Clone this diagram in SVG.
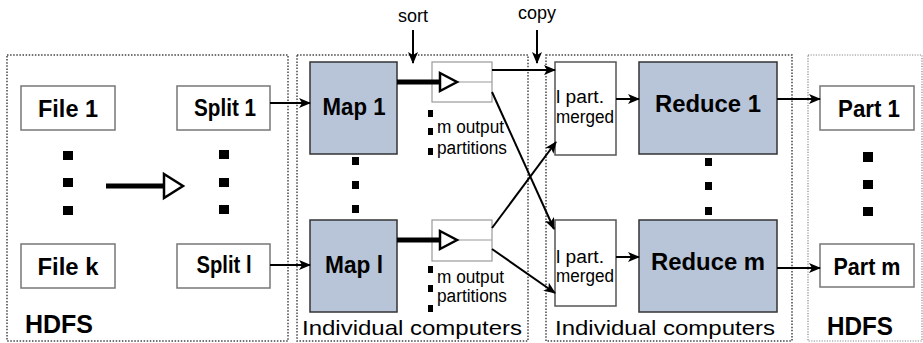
<svg xmlns="http://www.w3.org/2000/svg" width="923" height="343" viewBox="0 0 923 343">
  <defs>
    <marker id="arrow" viewBox="0 0 12 10" refX="11" refY="5" markerWidth="12" markerHeight="10" markerUnits="userSpaceOnUse" orient="auto">
      <path d="M0,0 L12,5 L0,10 L3,5 z" fill="#000"/>
    </marker>
    <style>
      .zone { fill: none; stroke: #444; stroke-width: 1.5; stroke-dasharray: 1.5 1.6; }
      .zone-light { fill: none; stroke: #888; stroke-width: 1.2; stroke-dasharray: 1.2 1.4; }
      .box { fill: #fff; stroke: #777; stroke-width: 1.5; }
      .proc { fill: #b8c5d8; stroke: #333; stroke-width: 1.5; }
      .buf { fill: #fff; stroke: #999; stroke-width: 1.2; }
      .merge { fill: #fff; stroke: #555; stroke-width: 1.5; }
      .edge { fill: none; stroke: #000; stroke-width: 2; marker-end: url(#arrow); }
      .thick { fill: none; stroke: #000; stroke-width: 5; }
      .hollow { fill: #fff; stroke: #000; stroke-width: 2.5; stroke-linejoin: miter; }
      .dot { fill: #000; }
      .lbl { font-family: "Liberation Sans", Arial, sans-serif; font-weight: bold; font-size: 24px; fill: #000; text-anchor: middle; }
      .small { font-family: "Liberation Sans", Arial, sans-serif; font-size: 18px; fill: #000; }
      .zone-lbl { font-family: "Liberation Sans", Arial, sans-serif; font-size: 21px; fill: #000; }
      .zone-bold { font-family: "Liberation Sans", Arial, sans-serif; font-weight: bold; font-size: 25px; fill: #000; }
    </style>
  </defs>

  <!-- zones -->
  <g id="zone-hdfs-in">
    <rect class="zone" x="7" y="55" width="281" height="286"/>
    <text class="zone-bold" x="25" y="333" textLength="68" lengthAdjust="spacingAndGlyphs">HDFS</text>
  </g>
  <g id="zone-map">
    <rect class="zone" x="297" y="55" width="231" height="286"/>
    <text class="zone-lbl" x="302" y="335" textLength="220" lengthAdjust="spacingAndGlyphs">Individual computers</text>
  </g>
  <g id="zone-reduce">
    <rect class="zone" x="546" y="55" width="246" height="286"/>
    <text class="zone-lbl" x="555" y="335" textLength="220" lengthAdjust="spacingAndGlyphs">Individual computers</text>
  </g>
  <g id="zone-hdfs-out">
    <rect class="zone-light" x="808" y="55" width="114" height="286"/>
    <text class="zone-bold" x="827" y="335" textLength="66" lengthAdjust="spacingAndGlyphs">HDFS</text>
  </g>

  <!-- input files and splits -->
  <g id="file-1">
    <rect class="box" x="21" y="86" width="94" height="44"/>
    <text class="lbl" x="68" y="117" textLength="60" lengthAdjust="spacingAndGlyphs">File 1</text>
  </g>
  <g id="file-k">
    <rect class="box" x="21" y="244" width="94" height="44"/>
    <text class="lbl" x="68" y="275" textLength="61" lengthAdjust="spacingAndGlyphs">File k</text>
  </g>
  <g id="split-1">
    <rect class="box" x="177" y="86" width="93" height="44"/>
    <text class="lbl" x="225" y="116" textLength="62" lengthAdjust="spacingAndGlyphs">Split 1</text>
  </g>
  <g id="split-l">
    <rect class="box" x="177" y="244" width="93" height="44"/>
    <text class="lbl" x="224" y="273" textLength="55" lengthAdjust="spacingAndGlyphs">Split l</text>
  </g>

  <!-- map tasks -->
  <g id="map-1">
    <rect class="proc" x="310" y="62" width="87" height="92"/>
    <text class="lbl" x="354" y="115" textLength="63" lengthAdjust="spacingAndGlyphs">Map 1</text>
  </g>
  <g id="map-l">
    <rect class="proc" x="310" y="220" width="87" height="92"/>
    <text class="lbl" x="354" y="273" textLength="58" lengthAdjust="spacingAndGlyphs">Map l</text>
  </g>

  <!-- sorted map output buffers -->
  <g id="buffer-1">
    <rect class="buf" x="432" y="62" width="60" height="40"/>
    <line class="buf" x1="432" y1="82" x2="492" y2="82"/>
    <rect class="dot" x="428" y="110" width="5" height="7"/>
    <rect class="dot" x="428" y="128" width="5" height="7"/>
    <rect class="dot" x="428" y="148" width="5" height="7"/>
    <text class="small" x="437" y="133" textLength="67" lengthAdjust="spacingAndGlyphs">m output</text>
    <text class="small" x="437" y="154" textLength="70" lengthAdjust="spacingAndGlyphs">partitions</text>
  </g>
  <g id="buffer-l">
    <rect class="buf" x="432" y="220" width="60" height="41"/>
    <line class="buf" x1="432" y1="240" x2="492" y2="240"/>
    <rect class="dot" x="428" y="266" width="5" height="7"/>
    <rect class="dot" x="428" y="285" width="5" height="7"/>
    <rect class="dot" x="428" y="305" width="5" height="7"/>
    <text class="small" x="437" y="283" textLength="67" lengthAdjust="spacingAndGlyphs">m output</text>
    <text class="small" x="437" y="302" textLength="70" lengthAdjust="spacingAndGlyphs">partitions</text>
  </g>

  <!-- merged partitions -->
  <g id="merged-1">
    <rect class="merge" x="555" y="62" width="61" height="93"/>
    <text class="small" x="556" y="103" textLength="48" lengthAdjust="spacingAndGlyphs">l part.</text>
    <text class="small" x="556" y="123" textLength="58" lengthAdjust="spacingAndGlyphs">merged</text>
  </g>
  <g id="merged-m">
    <rect class="merge" x="555" y="220" width="61" height="86"/>
    <text class="small" x="556" y="263" textLength="48" lengthAdjust="spacingAndGlyphs">l part.</text>
    <text class="small" x="556" y="282" textLength="58" lengthAdjust="spacingAndGlyphs">merged</text>
  </g>

  <!-- reduce tasks -->
  <g id="reduce-1">
    <rect class="proc" x="639" y="62" width="138" height="92"/>
    <text class="lbl" x="708" y="112" textLength="106" lengthAdjust="spacingAndGlyphs">Reduce 1</text>
  </g>
  <g id="reduce-m">
    <rect class="proc" x="639" y="220" width="138" height="92"/>
    <text class="lbl" x="708" y="270" textLength="114" lengthAdjust="spacingAndGlyphs">Reduce m</text>
  </g>

  <!-- output parts -->
  <g id="part-1">
    <rect class="box" x="820" y="86" width="94" height="44"/>
    <text class="lbl" x="869" y="117" textLength="62" lengthAdjust="spacingAndGlyphs">Part 1</text>
  </g>
  <g id="part-m">
    <rect class="box" x="820" y="244" width="94" height="43"/>
    <text class="lbl" x="867" y="275" textLength="67" lengthAdjust="spacingAndGlyphs">Part m</text>
  </g>

  <!-- ellipsis dots -->
  <g id="ellipses">
    <rect class="dot" x="63" y="151" width="10" height="9"/>
    <rect class="dot" x="63" y="178" width="10" height="9"/>
    <rect class="dot" x="63" y="206" width="10" height="9"/>
    <rect class="dot" x="219" y="150" width="10" height="9"/>
    <rect class="dot" x="219" y="178" width="10" height="9"/>
    <rect class="dot" x="219" y="205" width="10" height="9"/>
    <rect class="dot" x="352" y="157" width="7" height="8"/>
    <rect class="dot" x="352" y="181" width="7" height="8"/>
    <rect class="dot" x="352" y="205" width="7" height="8"/>
    <rect class="dot" x="705" y="158" width="7" height="8"/>
    <rect class="dot" x="705" y="182" width="7" height="8"/>
    <rect class="dot" x="705" y="207" width="7" height="8"/>
    <rect class="dot" x="863" y="152" width="10" height="10"/>
    <rect class="dot" x="863" y="180" width="10" height="9"/>
    <rect class="dot" x="863" y="207" width="10" height="9"/>
  </g>

  <!-- phase labels -->
  <g id="phase-sort">
    <text class="small" x="413" y="22" text-anchor="middle">sort</text>
  </g>
  <g id="phase-copy">
    <text class="small" x="537" y="19" text-anchor="middle">copy</text>
  </g>

  <!-- connectors -->
  <g id="connectors">
    <!-- files to splits -->
    <line class="thick" x1="106" y1="186" x2="164" y2="186"/>
    <polygon class="hollow" points="164,174 183,186 164,198"/>
    <!-- splits to maps -->
    <line class="edge" x1="270" y1="103" x2="310" y2="103"/>
    <line class="edge" x1="270" y1="265" x2="310" y2="265"/>
    <!-- maps to sort buffers -->
    <line class="thick" x1="397" y1="82" x2="440" y2="82"/>
    <polygon class="hollow" points="440,73 457,82 440,91"/>
    <line class="thick" x1="397" y1="240" x2="440" y2="240"/>
    <polygon class="hollow" points="440,231 457,240 440,249"/>
    <!-- phase markers -->
    <line class="edge" x1="413" y1="30" x2="413" y2="63"/>
    <line class="edge" x1="537" y1="30" x2="537" y2="63"/>
    <!-- shuffle -->
    <line class="edge" x1="492" y1="70" x2="555" y2="70"/>
    <line class="edge" x1="492" y1="92" x2="554" y2="229"/>
    <line class="edge" x1="492" y1="228" x2="556" y2="142"/>
    <line class="edge" x1="492" y1="249" x2="555" y2="293"/>
    <!-- merged to reduce -->
    <line class="edge" x1="616" y1="99" x2="639" y2="99"/>
    <line class="edge" x1="616" y1="257" x2="639" y2="257"/>
    <!-- reduce to output -->
    <line class="edge" x1="777" y1="99" x2="820" y2="99"/>
    <line class="edge" x1="777" y1="268" x2="820" y2="268"/>
  </g>
</svg>
